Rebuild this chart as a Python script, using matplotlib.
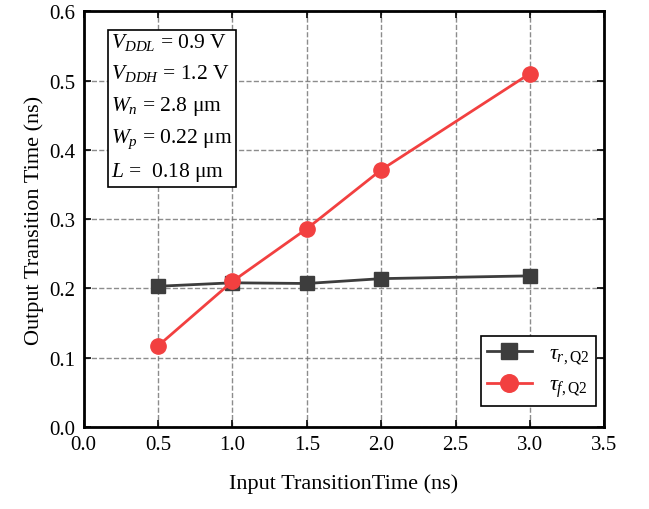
import matplotlib
matplotlib.use("Agg")
import matplotlib.pyplot as plt

plt.rcParams['font.family'] = ['Liberation Serif', 'DejaVu Serif']
plt.rcParams['mathtext.fontset'] = 'custom'
plt.rcParams['mathtext.rm'] = 'Liberation Serif'
plt.rcParams['mathtext.it'] = 'Liberation Serif:italic'

# data
t_in = [0.5, 1.0, 1.5, 2.0, 3.0]
tau_r = [0.203, 0.208, 0.207, 0.214, 0.218]
tau_f = [0.117, 0.210, 0.286, 0.371, 0.510]
xticks = [0.0, 0.5, 1.0, 1.5, 2.0, 2.5, 3.0, 3.5]
yticks = [0.0, 0.1, 0.2, 0.3, 0.4, 0.5, 0.6]

fig = plt.figure(figsize=(6.49, 5.10), dpi=100)
ax = fig.add_axes([0.129, 0.161, 0.802, 0.815])

ax.plot(t_in, tau_r, '-s', color='#3d3d3d', lw=2, ms=10, label=r'$\tau_{r,\mathrm{Q2}}$')
ax.plot(t_in, tau_f, '-o', color='#f24040', lw=2, ms=11, label=r'$\tau_{f,\mathrm{Q2}}$')

ax.set_xlim(0, 3.5)
ax.set_ylim(0, 0.6)
ax.set_xticks(xticks)
ax.set_yticks(yticks)
ax.set_xticklabels([f'{v:.1f}' for v in xticks])
ax.set_yticklabels([f'{v:.1f}' for v in yticks])
ax.tick_params(direction='in', length=5, width=1.2, labelsize=15, top=True, right=True, pad=6)
ax.grid(True, color='#707070', linestyle='--', lw=1, alpha=0.8)
for s in ax.spines.values():
    s.set_linewidth(2)

ax.set_xlabel('Input TransitionTime (ns)', fontsize=16, labelpad=14)
ax.set_ylabel('Output Transition Time (ns)', fontsize=16, labelpad=4)

info = ('$V_{DDL}$ = 0.9 V\n$V_{DDH}$ = 1.2 V\n$W_n$ = 2.8 μm\n'
        '$W_p$ = 0.22 μm\n$L$ =  0.18 μm')
ax.text(0.053, 0.952, info, transform=ax.transAxes, fontsize=15.5, va='top', ha='left',
        linespacing=1.64,
        bbox=dict(boxstyle='square,pad=0.15', facecolor='white', edgecolor='black', lw=1.2))

leg = ax.legend(loc='lower right', bbox_to_anchor=(0.985, 0.05), fontsize=16,
                fancybox=False, edgecolor='black', framealpha=1, handlelength=2.0,
                borderpad=0.3, labelspacing=0.4, markerscale=1.15, borderaxespad=0)
leg.get_frame().set_linewidth(1.2)

fig.savefig('out.png', dpi=100)
